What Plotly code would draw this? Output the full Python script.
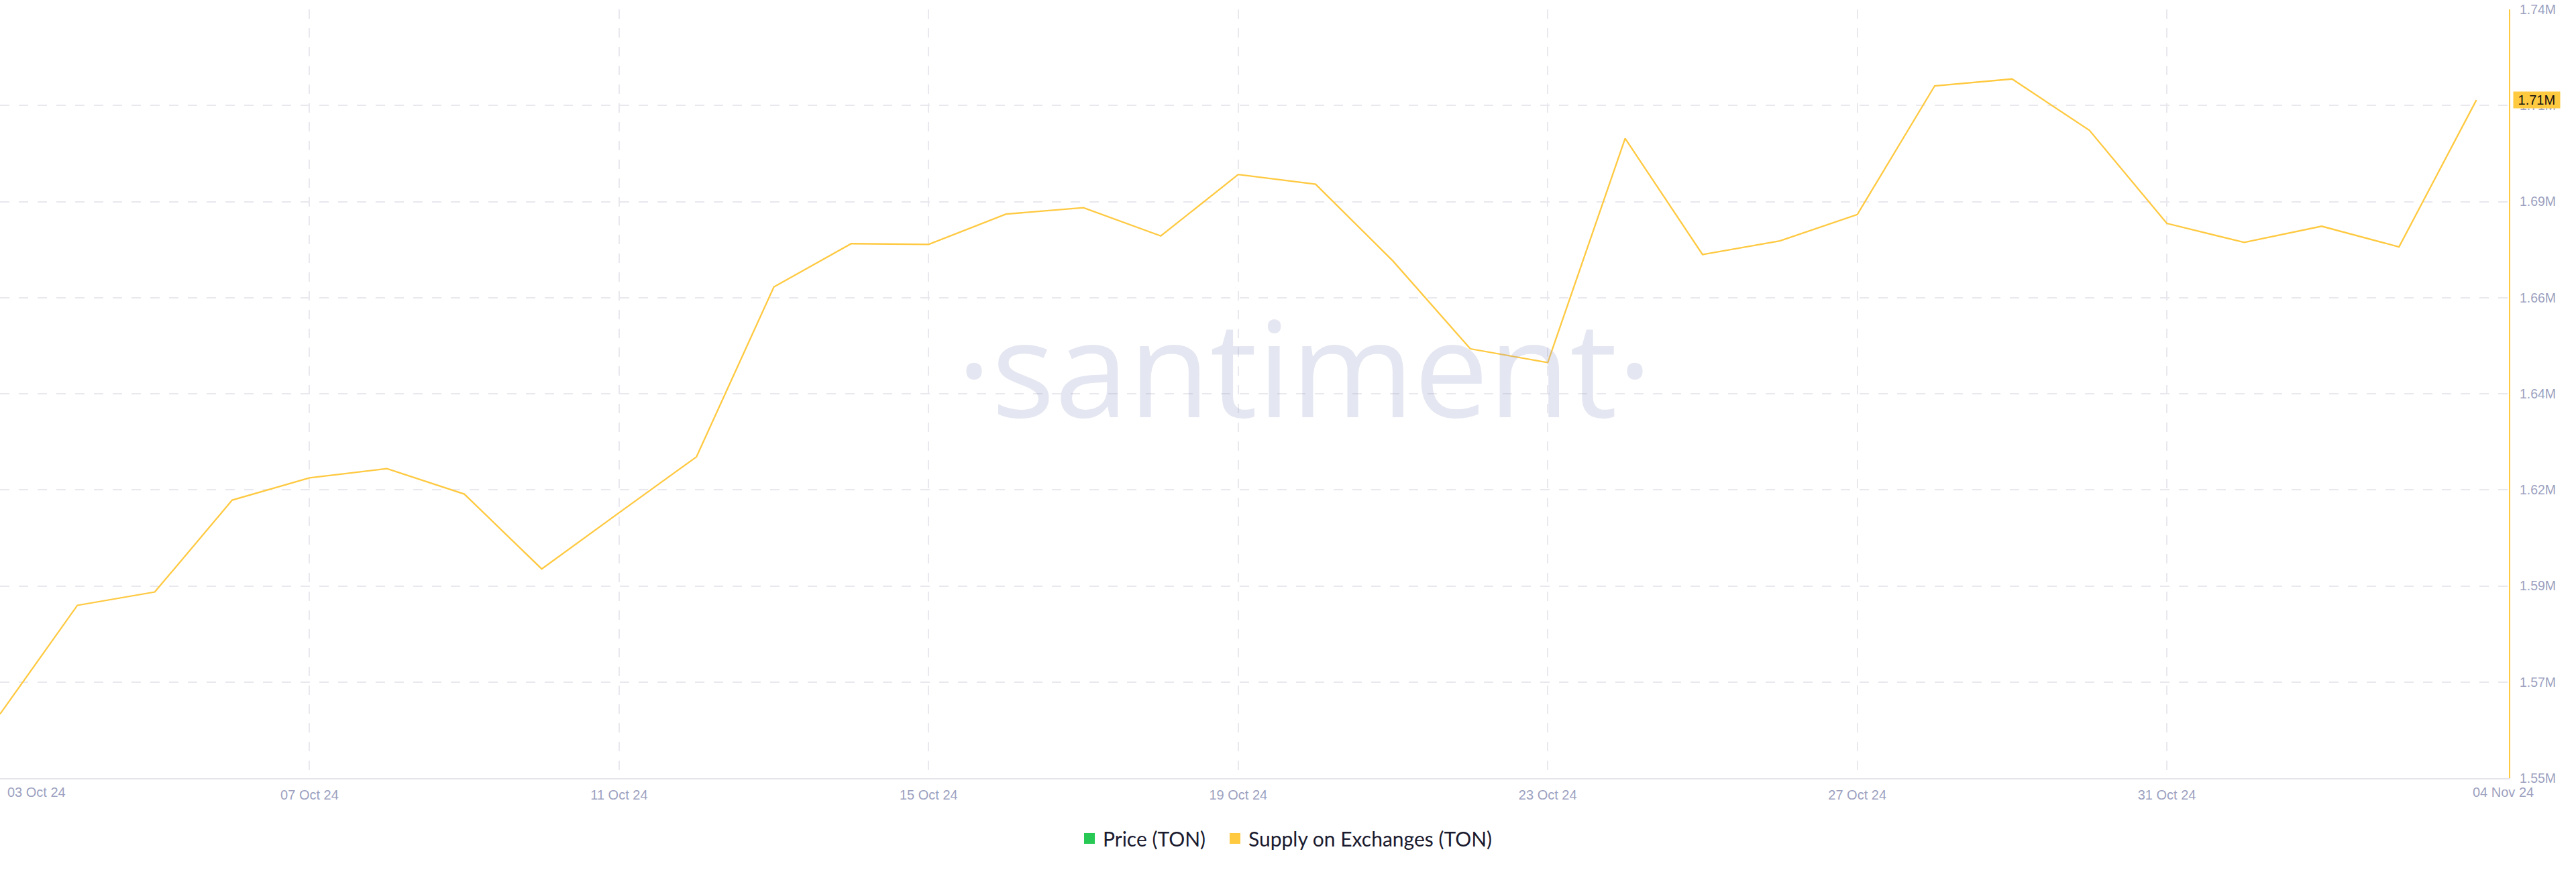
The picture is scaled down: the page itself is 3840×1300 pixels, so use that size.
import math
import pandas as pd
import plotly.graph_objects as go

# ---------------- data ----------------
dates = pd.date_range("2024-10-03", "2024-11-04", freq="D")

supply_on_exchanges = [
    1565800, 1592700, 1596000, 1618700, 1624200, 1626500, 1620200, 1601700,
    1615600, 1629400, 1671400, 1682100, 1681900, 1689400, 1691000, 1684000,
    1699200, 1696800, 1677800, 1656100, 1652700, 1708100, 1679400, 1682800,
    1689300, 1721100, 1722800, 1710100, 1687100, 1682400, 1686400, 1681300,
    1717600,
]

y_range = [1550000, 1740000]
y_tick_labels = ["1.55M", "1.57M", "1.59M", "1.62M", "1.64M",
                 "1.66M", "1.69M", "1.71M", "1.74M"]

x_tick_dates = ["2024-10-03", "2024-10-07", "2024-10-11", "2024-10-15",
                "2024-10-19", "2024-10-23", "2024-10-27", "2024-10-31"]
x_tick_labels = ["", "07 Oct 24", "11 Oct 24", "15 Oct 24",
                 "19 Oct 24", "23 Oct 24", "27 Oct 24", "31 Oct 24"]
first_label = "03 Oct 24"
last_label = "04 Nov 24"
x_range = ["2024-10-03 00:00", "2024-11-04 10:05"]

legend_names = ["Price (TON)", "Supply on Exchanges (TON)"]

# ---------------- style ----------------
YELLOW = "#ffc940"
GREEN = "#27c954"
GRID = "#e8e8ee"
TICK = "#9ca1bf"

n_ticks = len(y_tick_labels)
y_tickvals = [y_range[0] + i * (y_range[1] - y_range[0]) / (n_ticks - 1) for i in range(n_ticks)]

fig = go.Figure()

fig.add_trace(go.Scatter(
    x=dates, y=supply_on_exchanges, mode="lines",
    line=dict(color=YELLOW, width=2.3), showlegend=False,
    name=legend_names[1],
))

for name, col, lg in zip(legend_names, [GREEN, YELLOW], ["legend", "legend2"]):
    fig.add_trace(go.Scatter(
        x=[None], y=[None], mode="markers", name=name, legend=lg,
        marker=dict(symbol="square", size=18, color=col),
    ))

last_val = supply_on_exchanges[-1]
badge = "\u00a0" + f"{math.floor(last_val / 1e4) / 100:.2f}M" + "\u00a0"

legend_style = dict(
    orientation="h", xref="container", yref="container",
    xanchor="left", y=0.0385, yanchor="middle",
    font=dict(family="Lato, sans-serif", size=30, color="#1b1b2f"),
    itemsizing="trace", bgcolor="rgba(0,0,0,0)",
)

fig.update_layout(
    width=3840, height=1300,
    margin=dict(l=0, r=100, t=14, b=140, autoexpand=False),
    paper_bgcolor="white", plot_bgcolor="white",
    font=dict(family="Liberation Sans, Arial, sans-serif", color=TICK),
    showlegend=True,
    legend=dict(x=1604 / 3840, **legend_style),
    legend2=dict(x=1821 / 3840, **legend_style),
    xaxis=dict(
        type="date", range=x_range, automargin=False,
        tickvals=x_tick_dates, ticktext=x_tick_labels,
        showgrid=True, gridcolor=GRID, gridwidth=1.5, griddash="14px,14px",
        showline=True, linecolor="#e4e4ea", linewidth=2,
        zeroline=False, ticks="", ticklabelstandoff=6,
        tickfont=dict(size=20, color=TICK),
    ),
    yaxis=dict(
        side="right", range=y_range, automargin=False,
        tickvals=y_tickvals, ticktext=y_tick_labels,
        showgrid=True, gridcolor=GRID, gridwidth=1.5, griddash="14px,14px",
        showline=True, linecolor=YELLOW, linewidth=2,
        zeroline=False, ticks="", ticklabelstandoff=10,
        tickfont=dict(size=19.5, color=TICK),
    ),
    annotations=[
        dict(
            text="\u00b7santiment\u00b7", xref="paper", yref="paper",
            x=0.5198, y=0.537, xanchor="center", yanchor="middle",
            showarrow=False,
            font=dict(family="Open Sans", size=198,
                      color="rgba(150,160,200,0.26)"),
        ),
        dict(
            text=badge, xref="paper", yref="y", x=1, y=last_val,
            xanchor="left", yanchor="middle", xshift=6, showarrow=False,
            bgcolor=YELLOW, borderpad=1,
            font=dict(size=20, color="#111111"),
        ),
        dict(
            text=first_label, xref="x", yref="paper", x=dates[0], y=0,
            xanchor="left", yanchor="top", xshift=9, yshift=-8, showarrow=False,
            font=dict(size=20, color=TICK),
        ),
        dict(
            text=last_label, xref="x", yref="paper", x=dates[-1], y=0,
            xanchor="center", yanchor="top", xshift=40, yshift=-8, showarrow=False,
            font=dict(size=20, color=TICK),
        ),
    ],
)

fig.write_html(
    "out.html",
    config={"displayModeBar": False},
    post_script="document.body.style.margin='0';",
)
